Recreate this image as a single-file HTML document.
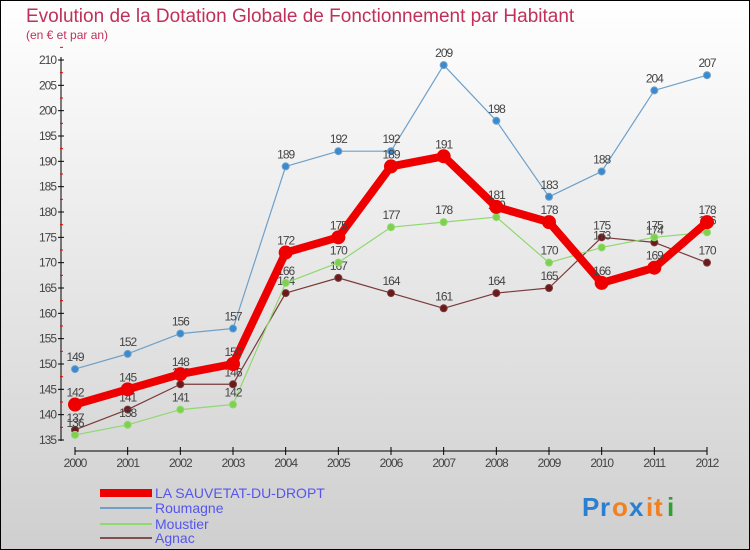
<!DOCTYPE html>
<html><head><meta charset="utf-8"><style>
body{margin:0;}
#c{width:750px;height:550px;position:relative;overflow:hidden;}
text{font-family:"Liberation Sans",sans-serif;}
</style></head><body>
<div id="c">
<svg id="s" width="750" height="550" xmlns="http://www.w3.org/2000/svg">
<defs><linearGradient id="bg" x1="0" y1="0" x2="0" y2="1"><stop offset="0" stop-color="#ffffff"/><stop offset="1" stop-color="#cfcfcf"/></linearGradient></defs>
<rect x="0.5" y="0.5" width="749" height="549" fill="url(#bg)" stroke="#000"/>
<text x="26" y="22" font-size="19" fill="#c0305a">Evolution de la Dotation Globale de Fonctionnement par Habitant</text>
<text x="26" y="39" font-size="12" fill="#c0305a">(en € et par an)</text>
<g id="axes"></g><g id="series"></g>
<g>
<rect x="100" y="489" width="52" height="8" fill="#e00"/>
<text x="155" y="498" font-size="14" fill="#5555ee">LA SAUVETAT-DU-DROPT</text>
<line x1="100" y1="508" x2="152" y2="508" stroke="#6fa0c8" stroke-width="2"/>
<text x="155" y="513" font-size="14" fill="#5555ee">Roumagne</text>
<line x1="100" y1="524" x2="152" y2="524" stroke="#90d870" stroke-width="2"/>
<text x="155" y="529" font-size="14" fill="#5555ee">Moustier</text>
<line x1="100" y1="538" x2="152" y2="538" stroke="#805050" stroke-width="2"/>
<text x="155" y="543" font-size="14" fill="#5555ee">Agnac</text>
</g>
<g font-size="26" font-weight="bold">
<text x="582" y="516" fill="#2a7fd0">P</text><text x="600" y="516" fill="#2a7fd0">r</text><text x="612" y="516" fill="#f08020">o</text><text x="629" y="516" fill="#2a7fd0">x</text><text x="646" y="516" fill="#f08020">i</text><text x="654" y="516" fill="#f08020">t</text><text x="667" y="516" fill="#30a030">i</text>
</g>
</svg></div>
<script>
const years=[2000,2001,2002,2003,2004,2005,2006,2007,2008,2009,2010,2011,2012];
const sauvetat=[142,145,148,150,172,175,189,191,181,178,166,169,178];
const roumagne=[149,152,156,157,189,192,192,209,198,183,188,204,207];
const moustier=[136,138,141,142,166,170,177,178,179,170,173,175,176];
const agnac=[137,141,146,146,164,167,164,161,164,165,175,174,170];
const yTicks=[135,140,145,150,155,160,165,170,175,180,185,190,195,200,205,210];
const NS="http://www.w3.org/2000/svg";
const X=i=>75+i*(707-75)/(years.length-1);
const Y=v=>440-(v-135)*(380/75);
function mk(tag,at,parent){const e=document.createElementNS(NS,tag);for(const k in at)e.setAttribute(k,at[k]);parent.appendChild(e);return e;}
const ax=document.getElementById('axes');
let e=mk('line',{x1:61,y1:57,x2:61,y2:441,stroke:'#000'},ax);


e=mk('line',{x1:75,y1:451,x2:707,y2:451,stroke:'#000'},ax);


yTicks.forEach(v=>{
 mk('line',{x1:58,y1:Y(v),x2:64,y2:Y(v),stroke:'#000'},ax);
 mk('line',{x1:60,y1:Y(v+2.5),x2:63,y2:Y(v+2.5),stroke:'#e00'},ax);
 const t=mk('text',{x:56,y:Y(v)+4,'font-size':12,fill:'#444','text-anchor':'end','letter-spacing':'-1'},ax);
 t.textContent=v;
 
 
});
years.forEach((y,i)=>{
 mk('line',{x1:X(i),y1:447,x2:X(i),y2:455,stroke:'#000'},ax);
 const t=mk('text',{x:X(i),y:467,'font-size':12,fill:'#444','text-anchor':'middle','letter-spacing':'-1'},ax);
 t.textContent=y;
 
 
});
const sg=document.getElementById('series');
function draw(data,color,w,r,name,dot){
 const g=mk('g',{},sg);
 
 
 mk('polyline',{points:data.map((v,i)=>X(i)+','+Y(v)).join(' '),fill:'none',stroke:color,'stroke-width':w,'stroke-linejoin':'round'},g);
 data.forEach((v,i)=>{
  const c=mk('circle',{cx:X(i),cy:Y(v),r:r,fill:dot,stroke:color,'stroke-width':1},g);
  
  
  const t=mk('text',{x:X(i),y:Y(v)-8,'font-size':12,fill:'#444','text-anchor':'middle','letter-spacing':'-1'},g);
  t.textContent=v;
  
  
 });
}
draw(agnac,'#7a3a3a',1.2,3.5,'agnac','#6a1a1a');
draw(moustier,'#90d870',1.2,3.5,'moustier','#80d050');
draw(roumagne,'#6fa0c8',1.2,3.5,'roumagne','#3a8ad0');
draw(sauvetat,'#ee0000',8,6.5,'sauvetat','#ee0000');
</script>
</body></html>
